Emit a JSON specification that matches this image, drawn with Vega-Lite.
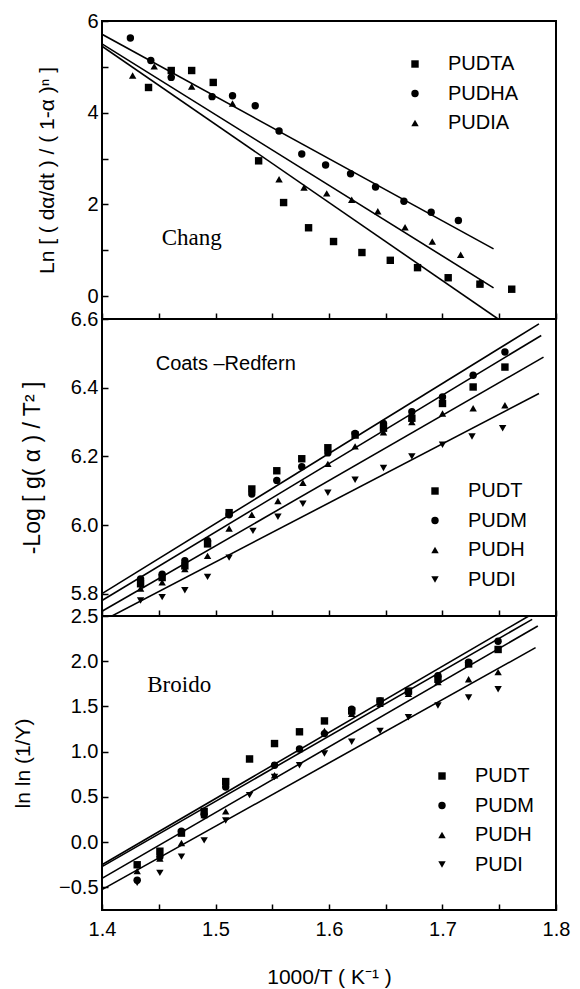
{
  "$schema": "https://vega.github.io/schema/vega-lite/v6.json",
  "background": "white",
  "padding": {"left": 11, "top": 10, "right": 5, "bottom": 0},
  "spacing": 0,
  "bounds": "flush",
  "resolve": {"scale": {"shape": "independent"}, "legend": {"shape": "independent"}},
  "config": {
    "font": "Liberation Sans",
    "view": {"stroke": "black", "strokeWidth": 2},
    "axis": {
      "domain": false, "grid": false, "tickColor": "black", "tickWidth": 1.5, "tickSize": -6,
      "labelColor": "black", "titleColor": "black", "labelFont": "Liberation Sans", "titleFont": "Liberation Sans",
      "labelFontSize": 20, "titleFontSize": 21, "titleFontWeight": "normal",
      "labelFlush": false, "labelOverlap": false, "labelPadding": 10
    },
    "legend": {
      "orient": "none", "title": null, "symbolFillColor": "black", "symbolStrokeColor": "black",
      "symbolSize": 55, "labelFontSize": 20, "labelFont": "Liberation Sans", "labelColor": "black",
      "labelOffset": 23, "rowPadding": 9.5
    }
  },
  "datasets": {
    "chang_pts": [
      {"x": 1.441, "y": 4.55, "s": "PUDTA"}, {"x": 1.461, "y": 4.92, "s": "PUDTA"}, {"x": 1.479, "y": 4.92, "s": "PUDTA"},
      {"x": 1.498, "y": 4.66, "s": "PUDTA"}, {"x": 1.538, "y": 2.95, "s": "PUDTA"}, {"x": 1.560, "y": 2.04, "s": "PUDTA"},
      {"x": 1.582, "y": 1.49, "s": "PUDTA"}, {"x": 1.604, "y": 1.19, "s": "PUDTA"}, {"x": 1.629, "y": 0.95, "s": "PUDTA"},
      {"x": 1.654, "y": 0.78, "s": "PUDTA"}, {"x": 1.678, "y": 0.62, "s": "PUDTA"}, {"x": 1.705, "y": 0.40, "s": "PUDTA"},
      {"x": 1.733, "y": 0.26, "s": "PUDTA"}, {"x": 1.761, "y": 0.15, "s": "PUDTA"},
      {"x": 1.425, "y": 5.63, "s": "PUDHA"}, {"x": 1.443, "y": 5.14, "s": "PUDHA"}, {"x": 1.461, "y": 4.77, "s": "PUDHA"},
      {"x": 1.497, "y": 4.35, "s": "PUDHA"}, {"x": 1.515, "y": 4.37, "s": "PUDHA"}, {"x": 1.535, "y": 4.15, "s": "PUDHA"},
      {"x": 1.556, "y": 3.60, "s": "PUDHA"}, {"x": 1.576, "y": 3.10, "s": "PUDHA"}, {"x": 1.597, "y": 2.86, "s": "PUDHA"},
      {"x": 1.619, "y": 2.67, "s": "PUDHA"}, {"x": 1.641, "y": 2.38, "s": "PUDHA"}, {"x": 1.666, "y": 2.07, "s": "PUDHA"},
      {"x": 1.690, "y": 1.83, "s": "PUDHA"}, {"x": 1.714, "y": 1.65, "s": "PUDHA"},
      {"x": 1.427, "y": 4.81, "s": "PUDIA"}, {"x": 1.446, "y": 5.01, "s": "PUDIA"}, {"x": 1.461, "y": 4.85, "s": "PUDIA"},
      {"x": 1.479, "y": 4.57, "s": "PUDIA"}, {"x": 1.515, "y": 4.20, "s": "PUDIA"}, {"x": 1.556, "y": 2.55, "s": "PUDIA"},
      {"x": 1.578, "y": 2.37, "s": "PUDIA"}, {"x": 1.598, "y": 2.24, "s": "PUDIA"}, {"x": 1.620, "y": 2.10, "s": "PUDIA"},
      {"x": 1.643, "y": 1.85, "s": "PUDIA"}, {"x": 1.667, "y": 1.50, "s": "PUDIA"}, {"x": 1.691, "y": 1.19, "s": "PUDIA"},
      {"x": 1.716, "y": 0.90, "s": "PUDIA"}, {"x": 1.733, "y": 0.30, "s": "PUDIA"}
    ],
    "chang_lines": [
      {"x": 1.4, "y": 5.71, "s": "PUDHA"}, {"x": 1.745, "y": 1.03, "s": "PUDHA"},
      {"x": 1.4, "y": 5.50, "s": "PUDIA"}, {"x": 1.745, "y": 0.18, "s": "PUDIA"},
      {"x": 1.4, "y": 5.45, "s": "PUDTA"}, {"x": 1.749, "y": -0.5, "s": "PUDTA"}
    ],
    "cr_pts": [
      {"x": 1.434, "y": 5.829, "s": "PUDT"}, {"x": 1.453, "y": 5.847, "s": "PUDT"}, {"x": 1.473, "y": 5.881, "s": "PUDT"},
      {"x": 1.493, "y": 5.945, "s": "PUDT"}, {"x": 1.512, "y": 6.036, "s": "PUDT"}, {"x": 1.532, "y": 6.105, "s": "PUDT"},
      {"x": 1.554, "y": 6.158, "s": "PUDT"}, {"x": 1.576, "y": 6.193, "s": "PUDT"}, {"x": 1.599, "y": 6.225, "s": "PUDT"},
      {"x": 1.623, "y": 6.262, "s": "PUDT"}, {"x": 1.648, "y": 6.282, "s": "PUDT"}, {"x": 1.673, "y": 6.311, "s": "PUDT"},
      {"x": 1.700, "y": 6.354, "s": "PUDT"}, {"x": 1.727, "y": 6.402, "s": "PUDT"}, {"x": 1.755, "y": 6.460, "s": "PUDT"},
      {"x": 1.434, "y": 5.843, "s": "PUDM"}, {"x": 1.453, "y": 5.857, "s": "PUDM"}, {"x": 1.473, "y": 5.896, "s": "PUDM"},
      {"x": 1.493, "y": 5.954, "s": "PUDM"}, {"x": 1.512, "y": 6.03, "s": "PUDM"}, {"x": 1.532, "y": 6.09, "s": "PUDM"},
      {"x": 1.554, "y": 6.13, "s": "PUDM"}, {"x": 1.576, "y": 6.17, "s": "PUDM"}, {"x": 1.599, "y": 6.21, "s": "PUDM"},
      {"x": 1.623, "y": 6.267, "s": "PUDM"}, {"x": 1.648, "y": 6.296, "s": "PUDM"}, {"x": 1.673, "y": 6.33, "s": "PUDM"},
      {"x": 1.700, "y": 6.373, "s": "PUDM"}, {"x": 1.727, "y": 6.436, "s": "PUDM"}, {"x": 1.755, "y": 6.504, "s": "PUDM"},
      {"x": 1.434, "y": 5.815, "s": "PUDH"}, {"x": 1.453, "y": 5.833, "s": "PUDH"}, {"x": 1.473, "y": 5.872, "s": "PUDH"},
      {"x": 1.493, "y": 5.91, "s": "PUDH"}, {"x": 1.512, "y": 5.99, "s": "PUDH"}, {"x": 1.532, "y": 6.03, "s": "PUDH"},
      {"x": 1.555, "y": 6.07, "s": "PUDH"}, {"x": 1.577, "y": 6.123, "s": "PUDH"}, {"x": 1.599, "y": 6.178, "s": "PUDH"},
      {"x": 1.623, "y": 6.229, "s": "PUDH"}, {"x": 1.648, "y": 6.27, "s": "PUDH"}, {"x": 1.673, "y": 6.30, "s": "PUDH"},
      {"x": 1.700, "y": 6.325, "s": "PUDH"}, {"x": 1.727, "y": 6.340, "s": "PUDH"}, {"x": 1.755, "y": 6.349, "s": "PUDH"},
      {"x": 1.434, "y": 5.78, "s": "PUDI"}, {"x": 1.453, "y": 5.79, "s": "PUDI"}, {"x": 1.473, "y": 5.81, "s": "PUDI"},
      {"x": 1.493, "y": 5.849, "s": "PUDI"}, {"x": 1.512, "y": 5.905, "s": "PUDI"}, {"x": 1.533, "y": 5.983, "s": "PUDI"},
      {"x": 1.555, "y": 6.024, "s": "PUDI"}, {"x": 1.577, "y": 6.062, "s": "PUDI"}, {"x": 1.599, "y": 6.094, "s": "PUDI"},
      {"x": 1.623, "y": 6.132, "s": "PUDI"}, {"x": 1.648, "y": 6.166, "s": "PUDI"}, {"x": 1.673, "y": 6.20, "s": "PUDI"},
      {"x": 1.700, "y": 6.234, "s": "PUDI"}, {"x": 1.726, "y": 6.258, "s": "PUDI"}, {"x": 1.753, "y": 6.282, "s": "PUDI"}
    ],
    "cr_lines": [
      {"x": 1.4, "y": 5.80, "s": "PUDT"}, {"x": 1.785, "y": 6.586, "s": "PUDT"},
      {"x": 1.4, "y": 5.78, "s": "PUDM"}, {"x": 1.787, "y": 6.552, "s": "PUDM"},
      {"x": 1.4, "y": 5.749, "s": "PUDH"}, {"x": 1.789, "y": 6.489, "s": "PUDH"},
      {"x": 1.4, "y": 5.72, "s": "PUDI"}, {"x": 1.785, "y": 6.383, "s": "PUDI"}
    ],
    "br_pts": [
      {"x": 1.431, "y": -0.25, "s": "PUDT"}, {"x": 1.451, "y": -0.10, "s": "PUDT"}, {"x": 1.470, "y": 0.10, "s": "PUDT"},
      {"x": 1.490, "y": 0.34, "s": "PUDT"}, {"x": 1.509, "y": 0.67, "s": "PUDT"}, {"x": 1.530, "y": 0.92, "s": "PUDT"},
      {"x": 1.552, "y": 1.09, "s": "PUDT"}, {"x": 1.574, "y": 1.22, "s": "PUDT"}, {"x": 1.596, "y": 1.34, "s": "PUDT"},
      {"x": 1.620, "y": 1.45, "s": "PUDT"}, {"x": 1.645, "y": 1.56, "s": "PUDT"}, {"x": 1.670, "y": 1.67, "s": "PUDT"},
      {"x": 1.696, "y": 1.80, "s": "PUDT"}, {"x": 1.723, "y": 1.97, "s": "PUDT"}, {"x": 1.749, "y": 2.13, "s": "PUDT"},
      {"x": 1.431, "y": -0.42, "s": "PUDM"}, {"x": 1.451, "y": -0.16, "s": "PUDM"}, {"x": 1.470, "y": 0.12, "s": "PUDM"},
      {"x": 1.490, "y": 0.30, "s": "PUDM"}, {"x": 1.509, "y": 0.61, "s": "PUDM"}, {"x": 1.552, "y": 0.85, "s": "PUDM"},
      {"x": 1.574, "y": 1.03, "s": "PUDM"}, {"x": 1.596, "y": 1.20, "s": "PUDM"}, {"x": 1.620, "y": 1.47, "s": "PUDM"},
      {"x": 1.645, "y": 1.56, "s": "PUDM"}, {"x": 1.670, "y": 1.66, "s": "PUDM"}, {"x": 1.696, "y": 1.84, "s": "PUDM"},
      {"x": 1.723, "y": 1.99, "s": "PUDM"}, {"x": 1.749, "y": 2.22, "s": "PUDM"},
      {"x": 1.431, "y": -0.32, "s": "PUDH"}, {"x": 1.451, "y": -0.18, "s": "PUDH"}, {"x": 1.470, "y": -0.01, "s": "PUDH"},
      {"x": 1.490, "y": 0.30, "s": "PUDH"}, {"x": 1.509, "y": 0.34, "s": "PUDH"}, {"x": 1.530, "y": 0.92, "s": "PUDH"},
      {"x": 1.552, "y": 0.74, "s": "PUDH"}, {"x": 1.574, "y": 1.03, "s": "PUDH"}, {"x": 1.596, "y": 1.23, "s": "PUDH"},
      {"x": 1.620, "y": 1.42, "s": "PUDH"}, {"x": 1.645, "y": 1.53, "s": "PUDH"}, {"x": 1.670, "y": 1.64, "s": "PUDH"},
      {"x": 1.696, "y": 1.77, "s": "PUDH"}, {"x": 1.723, "y": 1.80, "s": "PUDH"}, {"x": 1.749, "y": 1.88, "s": "PUDH"},
      {"x": 1.431, "y": -0.45, "s": "PUDI"}, {"x": 1.451, "y": -0.34, "s": "PUDI"}, {"x": 1.470, "y": -0.16, "s": "PUDI"},
      {"x": 1.490, "y": 0.02, "s": "PUDI"}, {"x": 1.509, "y": 0.24, "s": "PUDI"}, {"x": 1.530, "y": 0.52, "s": "PUDI"},
      {"x": 1.552, "y": 0.72, "s": "PUDI"}, {"x": 1.574, "y": 0.85, "s": "PUDI"}, {"x": 1.596, "y": 0.98, "s": "PUDI"},
      {"x": 1.620, "y": 1.11, "s": "PUDI"}, {"x": 1.645, "y": 1.23, "s": "PUDI"}, {"x": 1.670, "y": 1.38, "s": "PUDI"},
      {"x": 1.696, "y": 1.51, "s": "PUDI"}, {"x": 1.723, "y": 1.60, "s": "PUDI"}, {"x": 1.749, "y": 1.69, "s": "PUDI"}
    ],
    "br_lines": [
      {"x": 1.4, "y": -0.25, "s": "PUDT"}, {"x": 1.776, "y": 2.5, "s": "PUDT"},
      {"x": 1.4, "y": -0.27, "s": "PUDM"}, {"x": 1.779, "y": 2.463, "s": "PUDM"},
      {"x": 1.4, "y": -0.40, "s": "PUDH"}, {"x": 1.784, "y": 2.39, "s": "PUDH"},
      {"x": 1.4, "y": -0.525, "s": "PUDI"}, {"x": 1.782, "y": 2.15, "s": "PUDI"}
    ]
  },
  "vconcat": [
    {
      "width": 454, "height": 298,
      "layer": [
        {
          "data": {"name": "chang_lines"},
          "mark": {"type": "line", "color": "black", "strokeWidth": 1.6, "clip": true},
          "encoding": {
            "x": {"field": "x", "type": "quantitative", "scale": {"domain": [1.4, 1.8], "nice": false},
                  "axis": {"labels": false, "title": null, "values": [1.4, 1.45, 1.5, 1.55, 1.6, 1.65, 1.7, 1.75, 1.8]}},
            "y": {"field": "y", "type": "quantitative", "scale": {"domain": [-0.5, 6], "nice": false, "zero": false},
                  "axis": {"title": "Ln [ ( dα/dt ) / ( 1-α )ⁿ ]", "titlePadding": 29, "values": [0, 1, 2, 3, 4, 5, 6],
                           "labelExpr": "indexof([0, 2, 4, 6], datum.value) >= 0 ? datum.label : ''"}},
            "detail": {"field": "s"}
          }
        },
        {
          "data": {"name": "chang_pts"},
          "mark": {"type": "point", "filled": true, "color": "black", "size": 55, "opacity": 1},
          "encoding": {
            "x": {"field": "x", "type": "quantitative"},
            "y": {"field": "y", "type": "quantitative"},
            "shape": {"field": "s", "type": "nominal",
                      "scale": {"domain": ["PUDTA", "PUDHA", "PUDIA"], "range": ["square", "circle", "triangle-up"]},
                      "legend": {"legendX": 303, "legendY": 33}}
          }
        },
        {
          "data": {"values": [{"x": 1.479, "y": 1.27, "t": "Chang"}]},
          "mark": {"type": "text", "font": "Liberation Serif", "fontSize": 23, "color": "black"},
          "encoding": {
            "x": {"field": "x", "type": "quantitative"},
            "y": {"field": "y", "type": "quantitative"},
            "text": {"field": "t"}
          }
        }
      ]
    },
    {
      "width": 454, "height": 297,
      "layer": [
        {
          "data": {"name": "cr_lines"},
          "mark": {"type": "line", "color": "black", "strokeWidth": 1.6, "clip": true},
          "encoding": {
            "x": {"field": "x", "type": "quantitative", "scale": {"domain": [1.4, 1.8], "nice": false},
                  "axis": {"labels": false, "title": null, "values": [1.4, 1.45, 1.5, 1.55, 1.6, 1.65, 1.7, 1.75, 1.8]}},
            "y": {"field": "y", "type": "quantitative", "scale": {"domain": [5.735, 6.6], "nice": false, "zero": false},
                  "axis": {"title": "-Log [ g( α ) / T² ]", "titleFontSize": 23, "titlePadding": 26, "values": [5.8, 5.9, 6.0, 6.1, 6.2, 6.3, 6.4, 6.5, 6.6],
                           "labelExpr": "round(datum.value * 10) % 2 == 0 ? format(datum.value, '.1f') : ''"}},
            "detail": {"field": "s"}
          }
        },
        {
          "data": {"name": "cr_pts"},
          "mark": {"type": "point", "filled": true, "color": "black", "size": 55, "opacity": 1},
          "encoding": {
            "x": {"field": "x", "type": "quantitative"},
            "y": {"field": "y", "type": "quantitative"},
            "shape": {"field": "s", "type": "nominal",
                      "scale": {"domain": ["PUDT", "PUDM", "PUDH", "PUDI"], "range": ["square", "circle", "triangle-up", "triangle-down"]},
                      "legend": {"legendX": 323, "legendY": 162}}
          }
        },
        {
          "data": {"values": [{"x": 1.509, "y": 6.468, "t": "Coats –Redfern"}]},
          "mark": {"type": "text", "font": "Liberation Sans", "fontSize": 20, "color": "black"},
          "encoding": {
            "x": {"field": "x", "type": "quantitative"},
            "y": {"field": "y", "type": "quantitative"},
            "text": {"field": "t"}
          }
        }
      ]
    },
    {
      "width": 454, "height": 294,
      "layer": [
        {
          "data": {"name": "br_lines"},
          "mark": {"type": "line", "color": "black", "strokeWidth": 1.6, "clip": true},
          "encoding": {
            "x": {"field": "x", "type": "quantitative", "scale": {"domain": [1.4, 1.8], "nice": false},
                  "axis": {"title": "1000/T ( K⁻¹ )", "values": [1.4, 1.45, 1.5, 1.55, 1.6, 1.65, 1.7, 1.75, 1.8],
                           "labelExpr": "indexof([1.4, 1.5, 1.6, 1.7, 1.8], datum.value) >= 0 ? format(datum.value, '.1f') : ''",
                           "labelPadding": 15, "titlePadding": 27}},
            "y": {"field": "y", "type": "quantitative", "scale": {"domain": [-0.75, 2.5], "nice": false, "zero": false},
                  "axis": {"title": "ln ln (1/Y)", "titlePadding": 25, "values": [-0.5, 0, 0.5, 1, 1.5, 2, 2.5], "format": ".1f"}},
            "detail": {"field": "s"}
          }
        },
        {
          "data": {"name": "br_pts"},
          "mark": {"type": "point", "filled": true, "color": "black", "size": 55, "opacity": 1},
          "encoding": {
            "x": {"field": "x", "type": "quantitative"},
            "y": {"field": "y", "type": "quantitative"},
            "shape": {"field": "s", "type": "nominal",
                      "scale": {"domain": ["PUDT", "PUDM", "PUDH", "PUDI"], "range": ["square", "circle", "triangle-up", "triangle-down"]},
                      "legend": {"legendX": 330, "legendY": 150}}
          }
        },
        {
          "data": {"values": [{"x": 1.468, "y": 1.74, "t": "Broido"}]},
          "mark": {"type": "text", "font": "Liberation Serif", "fontSize": 23, "color": "black"},
          "encoding": {
            "x": {"field": "x", "type": "quantitative"},
            "y": {"field": "y", "type": "quantitative"},
            "text": {"field": "t"}
          }
        }
      ]
    }
  ]
}
